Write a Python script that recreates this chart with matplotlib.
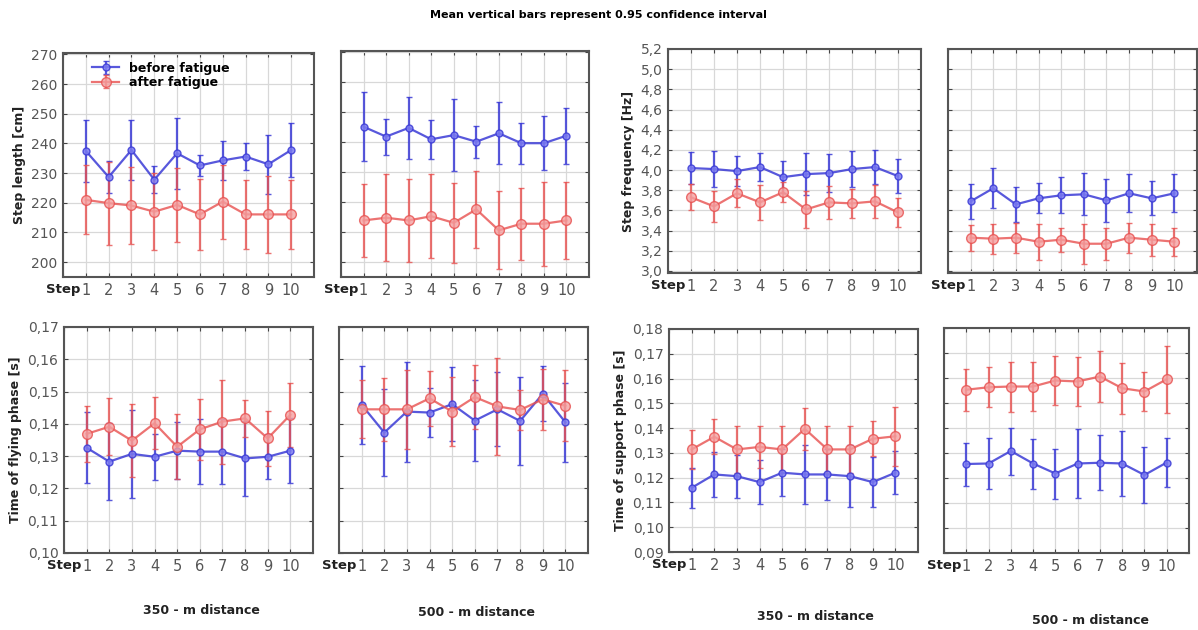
"""
    Step parameters before / after fatigue, 350 m and 500 m
"""
import numpy as np
import matplotlib.pyplot as plt

steps = list(range(1, 11))
xtick_labels = ['Step'] + [str(s) for s in steps]

# step length [cm]
len350_before = [237.5, 228.7, 237.8, 227.8, 236.7, 232.6, 234.3, 235.6, 233.0, 237.8]
len350_before_ci = [10.5, 5.5, 10.0, 4.5, 12.0, 3.6, 6.5, 4.6, 10.0, 9.0]
len350_after = [221.0, 219.9, 219.1, 217.0, 219.3, 216.1, 220.4, 216.1, 216.1, 216.1]
len350_after_ci = [11.6, 14.0, 13.0, 13.0, 12.5, 12.0, 12.5, 11.5, 13.0, 11.7]
len500_before = [245.2, 241.9, 244.8, 241.0, 242.4, 240.2, 243.0, 239.7, 239.7, 242.2]
len500_before_ci = [11.5, 6.0, 10.3, 6.5, 12.0, 5.3, 10.3, 6.8, 9.0, 9.4]
len500_after = [213.9, 214.8, 213.9, 215.3, 213.1, 217.6, 210.6, 212.8, 212.8, 213.9]
len500_after_ci = [12.3, 14.5, 14.0, 14.0, 13.3, 12.8, 13.0, 12.0, 14.0, 12.8]

# step frequency [Hz]
frq350_before = [4.02, 4.01, 3.99, 4.03, 3.93, 3.96, 3.97, 4.01, 4.03, 3.94]
frq350_before_ci = [0.16, 0.18, 0.15, 0.14, 0.16, 0.21, 0.19, 0.18, 0.17, 0.17]
frq350_after = [3.73, 3.64, 3.77, 3.68, 3.78, 3.61, 3.68, 3.67, 3.69, 3.58]
frq350_after_ci = [0.13, 0.15, 0.14, 0.17, 0.10, 0.18, 0.16, 0.14, 0.16, 0.14]
frq500_before = [3.69, 3.82, 3.66, 3.72, 3.75, 3.76, 3.70, 3.77, 3.72, 3.77]
frq500_before_ci = [0.17, 0.20, 0.17, 0.15, 0.18, 0.21, 0.21, 0.19, 0.17, 0.19]
frq500_after = [3.33, 3.32, 3.33, 3.29, 3.31, 3.27, 3.27, 3.33, 3.31, 3.29]
frq500_after_ci = [0.13, 0.15, 0.15, 0.18, 0.12, 0.20, 0.16, 0.15, 0.16, 0.14]

# time of flying phase [s]
fly350_before = [0.1326, 0.1283, 0.1307, 0.1298, 0.1317, 0.1314, 0.1314, 0.1293, 0.1298, 0.1317]
fly350_before_ci = [0.011, 0.012, 0.0137, 0.0072, 0.0088, 0.010, 0.010, 0.0117, 0.007, 0.0101]
fly350_after = [0.1369, 0.1391, 0.1348, 0.1402, 0.1329, 0.1383, 0.1407, 0.1417, 0.1355, 0.1428]
fly350_after_ci = [0.0086, 0.0088, 0.0113, 0.008, 0.010, 0.0095, 0.013, 0.0057, 0.0085, 0.010]
fly500_before = [0.1459, 0.1373, 0.1438, 0.1435, 0.1461, 0.1410, 0.1445, 0.1409, 0.1493, 0.1405]
fly500_before_ci = [0.012, 0.0135, 0.0155, 0.0076, 0.0115, 0.0125, 0.0115, 0.0135, 0.0085, 0.0123]
fly500_after = [0.1445, 0.1445, 0.1445, 0.1479, 0.1438, 0.1483, 0.1454, 0.1443, 0.1476, 0.1456]
fly500_after_ci = [0.009, 0.0097, 0.0123, 0.0086, 0.0107, 0.010, 0.015, 0.0062, 0.0094, 0.011]

# time of support phase [s]
sup350_before = [0.1159, 0.1213, 0.1206, 0.1182, 0.1220, 0.1213, 0.1213, 0.1206, 0.1182, 0.1220]
sup350_before_ci = [0.008, 0.009, 0.0087, 0.0088, 0.0094, 0.012, 0.0104, 0.0126, 0.010, 0.0087]
sup350_after = [0.1314, 0.1365, 0.1314, 0.1324, 0.1314, 0.1397, 0.1314, 0.1314, 0.1357, 0.1367]
sup350_after_ci = [0.008, 0.007, 0.0094, 0.0086, 0.0094, 0.0084, 0.0094, 0.0094, 0.007, 0.0118]
sup500_before = [0.1256, 0.1258, 0.1308, 0.1258, 0.1218, 0.1258, 0.1261, 0.1258, 0.1212, 0.1262]
sup500_before_ci = [0.0086, 0.0102, 0.0094, 0.010, 0.010, 0.0138, 0.011, 0.013, 0.0113, 0.0098]
sup500_after = [0.1553, 0.1563, 0.1566, 0.1566, 0.1590, 0.1586, 0.1606, 0.1559, 0.1546, 0.1595]
sup500_after_ci = [0.0084, 0.008, 0.010, 0.0097, 0.0097, 0.0097, 0.0103, 0.0102, 0.0078, 0.0134]

len_ticks = [200, 210, 220, 230, 240, 250, 260, 270]
len_tick_labels = ['200', '210', '220', '230', '240', '250', '260', '270']
frq_ticks = [3.0, 3.2, 3.4, 3.6, 3.8, 4.0, 4.2, 4.4, 4.6, 4.8, 5.0, 5.2]
frq_tick_labels = ['3,0', '3,2', '3,4', '3,6', '3,8', '4,0', '4,2', '4,4', '4,6', '4,8', '5,0', '5,2']
fly_ticks = [0.10, 0.11, 0.12, 0.13, 0.14, 0.15, 0.16, 0.17]
fly_tick_labels = ['0,10', '0,11', '0,12', '0,13', '0,14', '0,15', '0,16', '0,17']
sup_ticks = [0.09, 0.10, 0.11, 0.12, 0.13, 0.14, 0.15, 0.16, 0.17, 0.18]
sup_tick_labels = ['0,09', '0,10', '0,11', '0,12', '0,13', '0,14', '0,15', '0,16', '0,17', '0,18']

blue = '#3b3bd6'
red = '#e8504f'

W, H = 1198, 630
fig = plt.figure(figsize=(11.98, 6.3), dpi=100, facecolor='white')


def px_axes(l, t, r, b):
    return fig.add_axes([l / W, 1 - b / H, (r - l) / W, (b - t) / H])


def panel(rect, before, before_ci, after, after_ci, ylim, ticks, tick_labels,
          ylabel=None, legend=False):
    ax = px_axes(*rect)
    eb1 = ax.errorbar(steps, before, yerr=before_ci, color=blue, lw=1.6,
                      elinewidth=1.6, capsize=2, marker='o', ms=5,
                      mfc='#7c7cf0', mec=blue, alpha=0.85, zorder=3)
    eb2 = ax.errorbar(steps, after, yerr=after_ci, color=red, lw=1.6,
                      elinewidth=1.6, capsize=2, marker='o', ms=7,
                      mfc='#f4a0a0', mec=red, alpha=0.8, zorder=3)
    ax.set_xlim(0, 11)
    ax.set_ylim(*ylim)
    ax.set_xticks(range(0, 11))
    ax.set_xticklabels(xtick_labels, fontsize=10.5, color='#555555')
    ax.get_xticklabels()[0].set_fontweight('bold')
    ax.get_xticklabels()[0].set_color('#222222')
    ax.get_xticklabels()[0].set_fontsize(9.5)
    ax.set_yticks(ticks)
    if ylabel is not None:
        ax.set_yticklabels(tick_labels, fontsize=10, color='#555555')
        ax.set_ylabel(ylabel, fontsize=9, fontweight='bold', color='#222222')
    else:
        ax.set_yticklabels([])
    ax.tick_params(direction='in', top=True, right=True, length=3,
                   color='#444444', pad=4)
    ax.grid(color='#d8d8d8', lw=0.9)
    ax.set_axisbelow(True)
    for s in ax.spines.values():
        s.set_color('#555555')
        s.set_linewidth(1.5)
    if legend:
        ax.legend([eb1, eb2], ['before fatigue', 'after fatigue'],
                  loc='upper left', bbox_to_anchor=(0.08, 1.0), frameon=False,
                  prop={'weight': 'bold', 'size': 9}, handlelength=2.2,
                  borderaxespad=0.3, labelspacing=0.1)
    return ax


panel((63, 53, 314, 277), len350_before, len350_before_ci, len350_after, len350_after_ci,
      (195, 270.5), len_ticks, len_tick_labels, 'Step length [cm]', legend=True)
panel((341, 51, 589, 277), len500_before, len500_before_ci, len500_after, len500_after_ci,
      (195, 270.5), len_ticks, len_tick_labels)
panel((668, 49, 921, 273), frq350_before, frq350_before_ci, frq350_after, frq350_after_ci,
      (2.98, 5.2), frq_ticks, frq_tick_labels, 'Step frequency [Hz]')
panel((948, 49, 1197, 273), frq500_before, frq500_before_ci, frq500_after, frq500_after_ci,
      (2.98, 5.2), frq_ticks, frq_tick_labels)
panel((64, 327, 313, 553), fly350_before, fly350_before_ci, fly350_after, fly350_after_ci,
      (0.10, 0.17), fly_ticks, fly_tick_labels, 'Time of flying phase [s]')
panel((339, 327, 588, 553), fly500_before, fly500_before_ci, fly500_after, fly500_after_ci,
      (0.10, 0.17), fly_ticks, fly_tick_labels)
panel((669, 329, 918, 552), sup350_before, sup350_before_ci, sup350_after, sup350_after_ci,
      (0.09, 0.18), sup_ticks, sup_tick_labels, 'Time of support phase [s]')
panel((944, 328, 1189, 553), sup500_before, sup500_before_ci, sup500_after, sup500_after_ci,
      (0.09, 0.18), sup_ticks, sup_tick_labels)

fig.text(598 / W, 1 - 15 / H, 'Mean vertical bars represent 0.95 confidence interval',
         ha='center', va='center', fontsize=8, fontweight='bold')
for x, y, t in [(201, 610, '350 - m distance'), (476, 612, '500 - m distance'),
                (815, 616, '350 - m distance'), (1090, 620, '500 - m distance')]:
    fig.text(x / W, 1 - y / H, t, ha='center', va='center', fontsize=9,
             fontweight='bold', color='#222222')

plt.savefig('out.png', dpi=100, facecolor='white')
